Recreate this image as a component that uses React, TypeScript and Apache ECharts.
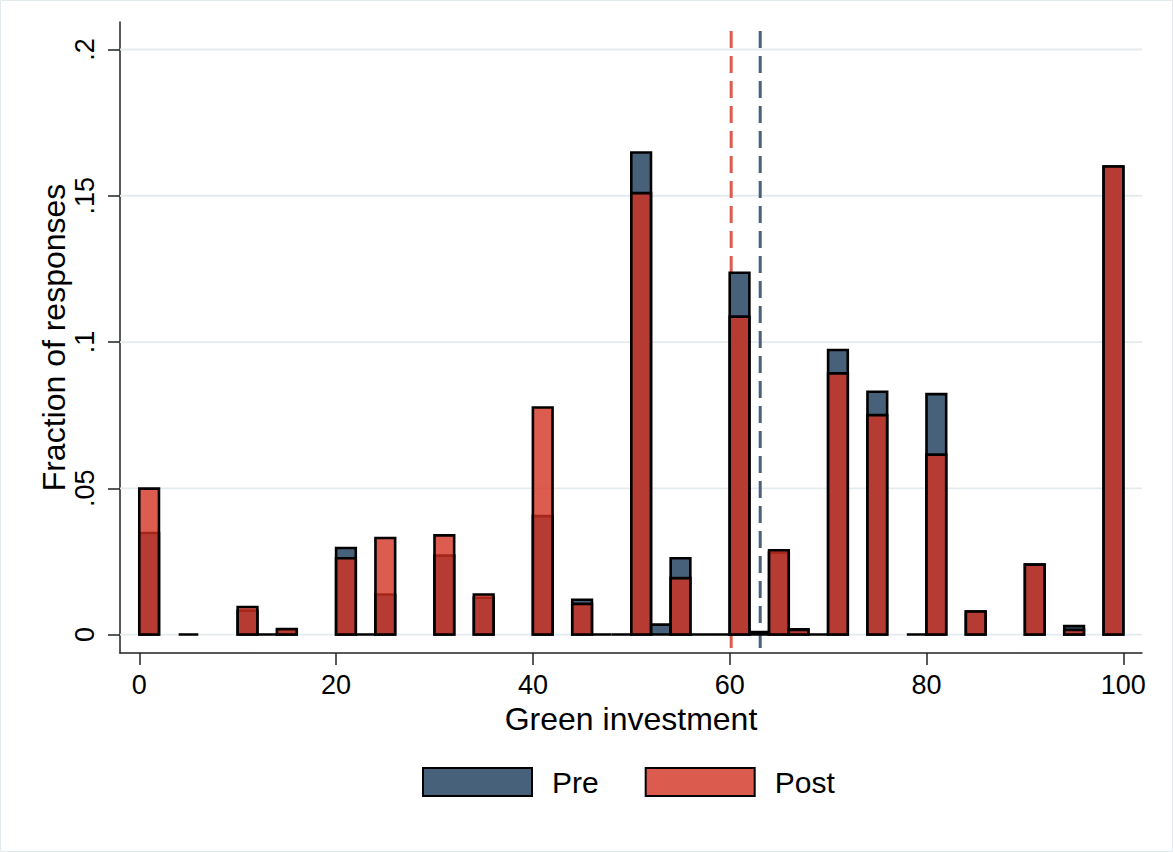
import React, { useEffect, useRef } from "react";
import * as echarts from "echarts";

// Histogram bins (start of each bin, bin width 2) and fractions
const BIN_WIDTH = 2;
const preBins = [0, 4, 10, 12, 14, 20, 22, 24, 30, 34, 40, 44, 46, 48, 50, 52, 54, 56, 58, 60, 62, 64, 66, 68, 70, 74, 78, 80, 84, 90, 94, 98];
const preValues = [0.0347, 0, 0.0082, 0, 0.0017, 0.0296, 0, 0.0137, 0.027, 0.0126, 0.0405, 0.0119, 0, 0, 0.1648, 0.0034, 0.0261, 0, 0, 0.1237, 0.0009, 0.028, 0.0018, 0, 0.0973, 0.083, 0, 0.0822, 0.0079, 0.0239, 0.0029, 0.16];
const postBins = [0, 10, 14, 20, 24, 30, 34, 40, 44, 50, 54, 60, 64, 66, 70, 74, 80, 84, 90, 94, 98];
const postValues = [0.0499, 0.0094, 0.0019, 0.0261, 0.033, 0.0339, 0.0137, 0.0776, 0.0105, 0.1509, 0.0193, 0.1087, 0.0288, 0.0016, 0.0893, 0.075, 0.0615, 0.0079, 0.0239, 0.0016, 0.16];
const meanLabels = ["Pre mean", "Post mean"];
const meanValues = [63.1, 60.15];
const xTicks = [0, 20, 40, 60, 80, 100];
const yTicks = [0, 0.05, 0.1, 0.15, 0.2];

const X_MIN = -1.96;
const X_MAX = 101.9;
const Y_MIN = -0.0063;
const Y_MAX = 0.2094;

const PRE_COLOR = "#48617a";
const POST_FILL = "rgba(210,49,32,0.79)";
const POST_SOLID = "#db5b4f";
const FONT = "'Liberation Sans', Arial, Helvetica, sans-serif";

export default function App() {
  const ref = useRef<HTMLDivElement>(null);

  useEffect(() => {
    if (!ref.current) return;
    const chart = echarts.init(ref.current, null, { renderer: "svg" });

    const barRender = (fill: string) => (params: any, api: any) => {
      const x0 = api.value(0);
      const v = api.value(1);
      const p0 = api.coord([x0, 0]);
      const p1 = api.coord([x0 + BIN_WIDTH, v]);
      return {
        type: "rect",
        shape: { x: p0[0], y: p1[1], width: p1[0] - p0[0], height: p0[1] - p1[1] },
        style: { fill, stroke: "#000", lineWidth: 2.6 },
      };
    };

    const option: any = {
      animation: false,
      backgroundColor: "#fff",
      textStyle: { fontFamily: FONT },
      graphic: [
        {
          type: "rect",
          shape: { x: 0.5, y: 0.5, width: 1172, height: 851 },
          style: { fill: "none", stroke: "#e3eaee", lineWidth: 1 },
          silent: true,
        },
      ],
      grid: { left: 120, right: 31, top: 22, bottom: 199 },
      xAxis: {
        type: "value",
        min: X_MIN,
        max: X_MAX,
        name: "Green investment",
        nameLocation: "middle",
        nameGap: 48,
        nameTextStyle: { fontSize: 32, color: "#000", fontFamily: FONT },
        axisLine: { show: true, onZero: false, lineStyle: { color: "#222", width: 1.5 } },
        axisTick: { show: true, customValues: xTicks, length: 12, lineStyle: { color: "#222", width: 1.5 } },
        axisLabel: { customValues: xTicks, fontSize: 27, color: "#000", margin: 18, fontFamily: FONT },
        splitLine: { show: false },
      },
      yAxis: {
        type: "value",
        min: Y_MIN,
        max: Y_MAX,
        name: "Fraction of responses",
        nameLocation: "middle",
        nameGap: 50,
        nameMoveOverlap: false,
        nameTextStyle: { fontSize: 32, color: "#000", fontFamily: FONT },
        axisLine: { show: true, onZero: false, lineStyle: { color: "#222", width: 1.5 } },
        axisTick: { show: true, customValues: yTicks, length: 12, lineStyle: { color: "#222", width: 1.5 } },
        axisLabel: {
          customValues: yTicks,
          fontSize: 27,
          color: "#000",
          margin: 22,
          rotate: 90,
          fontFamily: FONT,
          formatter: (v: number) => (v === 0 ? "0" : String(v).replace(/^0/, "")),
        },
        splitLine: { show: false },
      },
      legend: {
        data: [
          { name: "Pre", itemStyle: { color: PRE_COLOR, borderColor: "#000", borderWidth: 2 } },
          { name: "Post", itemStyle: { color: POST_SOLID, borderColor: "#000", borderWidth: 2 } },
        ],
        left: 422,
        top: 767,
        padding: 0,
        icon: "rect",
        itemWidth: 109,
        itemHeight: 28,
        itemGap: 46,
        textStyle: { fontSize: 30, color: "#000", fontFamily: FONT, padding: [0, 0, 0, 15] },
        selectedMode: false,
      },
      series: [
        {
          name: "grid",
          type: "custom",
          silent: true,
          data: yTicks.map((v) => [0, v]),
          renderItem: (params: any, api: any) => {
            const y = api.value(1);
            const a = api.coord([X_MIN, y]);
            const b = api.coord([X_MAX, y]);
            return {
              type: "line",
              shape: { x1: a[0], y1: a[1], x2: b[0], y2: b[1] },
              style: { stroke: "#e4ebee", lineWidth: 1.8 },
            };
          },
          z: 1,
        },
        {
          name: "means",
          type: "custom",
          silent: true,
          data: meanValues.map((m, i) => ({ name: meanLabels[i], value: [m, 0] })),
          renderItem: (params: any, api: any) => {
            const m = api.value(0);
            const a = api.coord([m, Y_MAX]);
            const b = api.coord([m, Y_MIN]);
            return {
              type: "line",
              shape: { x1: a[0], y1: a[1] + 9, x2: b[0], y2: b[1] },
              style: {
                stroke: params.dataIndex === 0 ? PRE_COLOR : POST_SOLID,
                lineWidth: 3,
                lineDash: [17, 8],
              },
            };
          },
          z: 2,
        },
        {
          name: "Pre",
          type: "custom",
          itemStyle: { color: PRE_COLOR, borderColor: "#000", borderWidth: 2 },
          data: preBins.map((b, i) => [b, preValues[i]]),
          renderItem: barRender(PRE_COLOR),
          z: 3,
        },
        {
          name: "Post",
          type: "custom",
          itemStyle: { color: POST_SOLID, borderColor: "#000", borderWidth: 2 },
          data: postBins.map((b, i) => [b, postValues[i]]),
          renderItem: barRender(POST_FILL),
          z: 4,
        },
      ],
    };

    chart.setOption(option);
    return () => chart.dispose();
  }, []);

  return (
    <div
      ref={ref}
      style={{ position: "absolute", left: 0, top: 0, width: 1173, height: 852 }}
    />
  );
}
